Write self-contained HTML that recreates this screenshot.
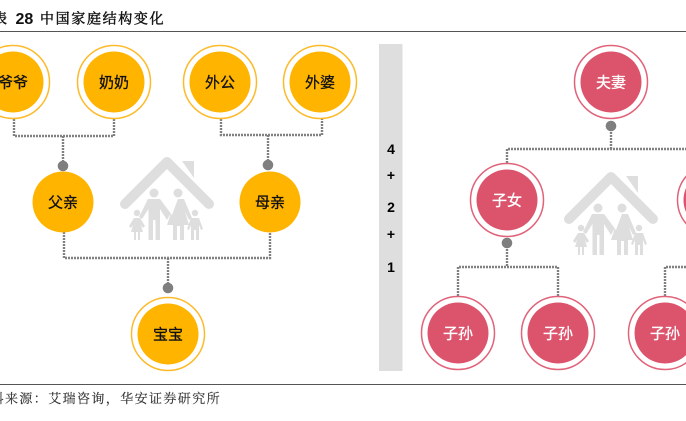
<!DOCTYPE html>
<html><head><meta charset="utf-8"><style>
html,body{margin:0;padding:0;background:#fff}
body{width:686px;height:421px;overflow:hidden}
svg{display:block}
.c{font-family:"Liberation Sans","Noto Sans CJK SC",sans-serif;font-size:15px;text-anchor:middle;stroke-width:.3}
.s{font-family:"Liberation Serif","Noto Serif CJK SC",serif}
.l{fill:none;stroke:#808080;stroke-width:2.4;stroke-dasharray:2 1}
.n{font-family:"Liberation Sans",sans-serif;font-size:14px;font-weight:bold;text-anchor:middle;fill:#000}
</style></head><body>
<svg width="686" height="421" viewBox="0 0 686 421" xmlns="http://www.w3.org/2000/svg">
<defs>
<g id="h" fill="#dedede">
<path d="M125 204 L167 162 L209 204" fill="none" stroke="#dedede" stroke-width="10" stroke-linecap="round" stroke-linejoin="round"/>
<path d="M182 161 H194 V178 Z"/>
<circle cx="154" cy="193" r="4.5"/><circle cx="178" cy="193" r="4.5"/>
<circle cx="137" cy="213" r="3.2"/><circle cx="195" cy="213" r="3.2"/>
<path d="M148 199 H160 L172 215 L178 199 H184 L192 218 L189 220 L185 212 L189 225 H184 V240 H180 V226 H177 V240 H173 V225 H167 L171 213 L167 220 L160 209 V240 H155.5 V220 H153 V240 H148.500 V209 L142 219 L139 217 Z"/>
<path d="M134 218 H140 L145 226 L143 228 L141 225 L143 232 H140 V240 H138 V232 H136 V240 H134 V232 H131 L133 225 L131 228 L129 226 Z"/>
<path d="M191 218 H199 L203 229 L201 230 L199 225 V240 H196 V230 H194 V240 H191 V225 L189 230 L187 229 Z"/>
</g>
</defs>
<text class="s" x="-7" y="23.500" font-size="14" fill="#111" stroke="#111" stroke-width=".45">表</text>
<text x="15.500" y="24" font-family="Liberation Sans" font-weight="bold" font-size="16" fill="#111">28</text>
<text class="s" x="40" y="23.500" font-size="14" fill="#111" stroke="#111" stroke-width=".45" letter-spacing="1.65">中国家庭结构变化</text>
<rect x="0" y="31" width="686" height="1" fill="#555"/>
<rect x="0" y="384" width="686" height="1" fill="#555"/>
<text class="s" x="-9.400" y="403" font-size="13" fill="#333" stroke="#333" stroke-width=".15" letter-spacing="1.4">料来源：艾瑞咨询，华安证券研究所</text>

<rect x="379" y="44" width="23.500" height="327" fill="#dedede"/>
<text class="n" x="391" y="154">4</text><text class="n" x="391" y="180">+</text><text class="n" x="391" y="212">2</text><text class="n" x="391" y="239">+</text><text class="n" x="391" y="272">1</text>

<use href="#h"/><use href="#h" x="444" y="15"/>

<path class="l" d="M14 119 V136 H114 V119 M63 136 V166"/>
<path class="l" d="M221 119 V135 H322 V119 M268 135 V165"/>
<path class="l" d="M64 232 V258 H270 V232 M168 258 V288"/>
<path class="l" d="M611 126 V149 M507 163 V149 H686"/>
<path class="l" d="M507 243 V266 M458 296 V267 H558 V296"/>
<path class="l" d="M665 296 V267 H686"/>
<g fill="#7f7f7f"><circle cx="63" cy="166" r="5.300"/><circle cx="268" cy="165" r="5.300"/><circle cx="168" cy="288" r="5.300"/><circle cx="611" cy="126" r="5.300"/><circle cx="507" cy="243" r="5.300"/></g>

<g fill="none" stroke="#fdbb2c" stroke-width="1.500">
<circle cx="13" cy="82" r="36.500"/><circle cx="114" cy="82" r="36.500"/><circle cx="220" cy="82" r="36.500"/><circle cx="320" cy="82" r="36.500"/><circle cx="168" cy="334" r="36.500"/>
</g>
<g fill="#ffb400">
<circle cx="13" cy="82" r="30.500"/><circle cx="114" cy="82" r="30.500"/><circle cx="220" cy="82" r="30.500"/><circle cx="320" cy="82" r="30.500"/><circle cx="168" cy="334" r="30.500"/>
<circle cx="63" cy="202" r="30.500"/><circle cx="270" cy="202" r="30.500"/>
</g>
<g fill="#111" stroke="#111">
<text class="c" x="13" y="87.500">爷爷</text><text class="c" x="114" y="87.500">奶奶</text><text class="c" x="220" y="87.500">外公</text><text class="c" x="320" y="87.500">外婆</text>
<text class="c" x="63" y="207.500">父亲</text><text class="c" x="270" y="207.500">母亲</text><text class="c" x="168" y="339.500">宝宝</text>
</g>

<g fill="none" stroke="#e0637a" stroke-width="1.500">
<circle cx="611" cy="82" r="36.500"/><circle cx="507" cy="200" r="36.500"/><circle cx="714" cy="200" r="36.500"/><circle cx="458" cy="333" r="36.500"/><circle cx="558" cy="333" r="36.500"/><circle cx="665" cy="333" r="36.500"/>
</g>
<g fill="#dc546c">
<circle cx="611" cy="82" r="30.500"/><circle cx="507" cy="200" r="30.500"/><circle cx="714" cy="200" r="30.500"/><circle cx="458" cy="333" r="30.500"/><circle cx="558" cy="333" r="30.500"/><circle cx="665" cy="333" r="30.500"/>
</g>
<g fill="#fff" stroke="#fff">
<text class="c" x="611" y="87.500">夫妻</text><text class="c" x="507" y="205.500">子女</text>
<text class="c" x="458" y="338.500">子孙</text><text class="c" x="558" y="338.500">子孙</text><text class="c" x="665" y="338.500">子孙</text>
</g>
</svg>
</body></html>
